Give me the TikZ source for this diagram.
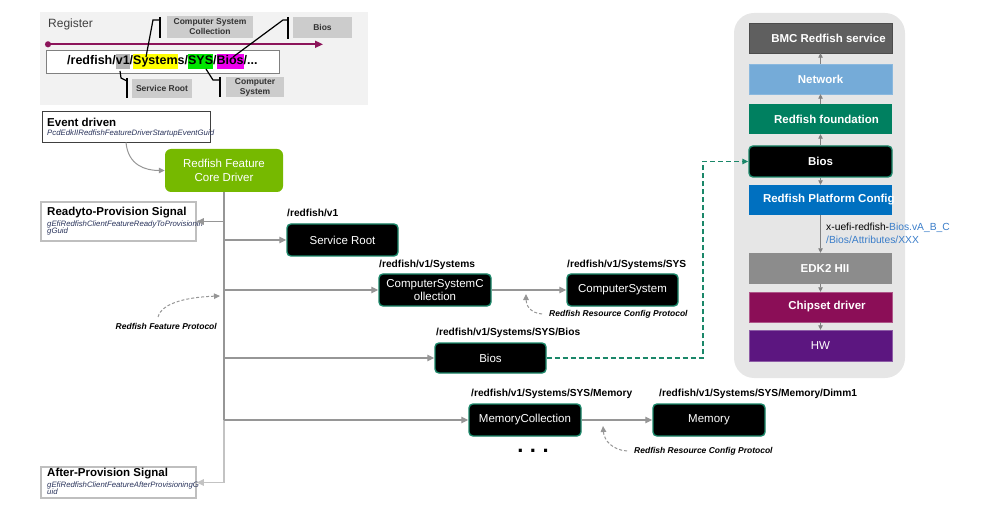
\documentclass[tikz,border=0pt]{standalone}
\usepackage{fontspec}
\setmainfont{Liberation Sans}
\usetikzlibrary{arrows.meta}
\definecolor{teal1}{RGB}{26,135,105}
\definecolor{cgreen}{RGB}{118,185,0}
\definecolor{fndc}{RGB}{0,128,96}
\definecolor{netc}{RGB}{117,171,216}
\definecolor{bmcc}{RGB}{95,95,95}
\definecolor{rpcc}{RGB}{0,112,192}
\definecolor{hiic}{RGB}{140,140,140}
\definecolor{chipc}{RGB}{139,14,87}
\definecolor{hwc}{RGB}{92,22,128}
\definecolor{panelc}{RGB}{230,230,230}
\definecolor{regbg}{RGB}{242,242,242}
\definecolor{purp}{RGB}{140,20,90}
\definecolor{arrg}{RGB}{150,150,150}
\definecolor{arrl}{RGB}{195,195,195}
\definecolor{subc}{RGB}{40,50,90}
\definecolor{calc}{RGB}{204,204,204}
\definecolor{lblue}{RGB}{58,125,201}
\definecolor{hlgray}{RGB}{180,180,180}
\definecolor{hlyel}{RGB}{255,255,0}
\definecolor{hlgrn}{RGB}{0,230,0}
\definecolor{hlmag}{RGB}{238,0,238}
\newcommand\fs[2]{\fontsize{#1}{#2}\selectfont}
\newcommand\hlw[2]{{\setlength{\fboxsep}{0pt}\colorbox{#1}{\strut #2}}}
\begin{document}
\begin{tikzpicture}[x=1pt,y=-1pt,
  rnode/.style={fill=black, draw=teal1, line width=1.4pt, rounded corners=4pt, text=white, font=\fs{11.5}{13}, inner sep=0, align=center, minimum height=32},
  plab/.style={anchor=base west, font=\bfseries\fs{10.2}{12}, inner sep=0},
  arr/.style={draw=arrg, line width=1.3pt, -{Triangle[length=7pt,width=6.5pt]}},
  arrlt/.style={draw=arrl, line width=1.3pt, -{Triangle[length=7pt,width=6.5pt]}},
  dcurve/.style={draw=arrg, line width=1pt, dash pattern=on 3pt off 2pt, -{Triangle[length=6pt,width=5.5pt]}},
  protl/.style={font=\bfseries\itshape\fs{8.5}{10}, inner sep=0},
  calbox/.style={fill=calc, inner sep=0, font=\bfseries\fs{8.5}{10}, text=black!80, align=center},
  cline/.style={draw=black, line width=1.2pt},
  cbar/.style={draw=black, line width=1.8pt},
  sbox/.style={minimum width=143, minimum height=30, inner sep=0, text=white, font=\bfseries\fs{11.5}{13}},
  sarr/.style={draw=black!50, line width=0.8pt, -{Triangle[length=4.5pt,width=4.5pt]}},
  ttl/.style={anchor=west, inner sep=0, font=\bfseries\fs{11.5}{13}},
  subt/.style={anchor=west, inner sep=0, font=\itshape\fs{7.8}{7.8}, text=subc, align=left}
]
\useasboundingbox (0,0) rectangle (992,510);

% ---------- register panel ----------
\node[fill=regbg, minimum width=328, minimum height=93, inner sep=0] (reg) at (204,58.5) {};
\node[anchor=west, inner sep=0, font=\fs{12}{14}, text=black!75] (regt) at (48,24) {Register};
\coordinate (ls) at (45,44.3);
\coordinate (le) at (323,44.3);
\draw[purp, line width=1.6pt, {Circle[length=6pt]}-{Triangle[length=8pt,width=7pt]}] (ls) -- (le);
\node[draw=black!50, line width=1pt, fill=white, minimum width=233, minimum height=22.6, inner sep=0] (pbox) at (162.5,62) {};
\node[anchor=west, inner sep=0, font=\bfseries\fs{12.5}{15}] (ptext) at (67,62) {/redfish/\hlw{hlgray}{v1}/\hlw{hlyel}{System}s/\hlw{hlgrn}{SYS}/\hlw{hlmag}{Bios}/...};

\node[calbox, minimum width=86, minimum height=22] (ccsc) at (210,27) {Computer System\\Collection};
\node[calbox, minimum width=59, minimum height=21] (cbios) at (322.5,27.5) {Bios};
\node[calbox, minimum width=60, minimum height=19] (csr) at (162,88.5) {Service Root};
\node[calbox, minimum width=58, minimum height=20] (ccs) at (255,87) {Computer\\System};

\draw[cbar] (160,17) -- (160,38);
\draw[cline] (146,57) -- (153,20) -- (160,20);
\draw[cbar] (288,17) -- (288,39);
\draw[cline] (233,57) -- (283,20) -- (288,20);
\draw[cbar] (127,78) -- (127,98);
\draw[cline] (120,71) -- (121,78) -- (127,81);
\draw[cbar] (220,77) -- (220,97);
\draw[cline] (206,69) -- (213,80) -- (220,80);

% ---------- left side ----------
\node[draw=black!75, line width=0.9pt, minimum width=168, minimum height=31, inner sep=0] (ev) at (126,126.5) {};
\node[ttl] (evt) at (47,122) {Event driven};
\node[subt] (evs) at (47,133.5) {PcdEdkIIRedfishFeatureDriverStartupEventGuid};

\node[fill=cgreen, rounded corners=6pt, minimum width=118, minimum height=43, inner sep=0, text=white, align=center, font=\fs{11.5}{13.5}] (core) at (224,170.5) {Redfish Feature\\Core Driver};

\node[draw=black!25, line width=1.5pt, minimum width=155, minimum height=39, inner sep=0] (ready) at (118.5,221.5) {};
\node[ttl] (readyt) at (47,212.5) {Readyto-Provision Signal};
\node[subt] (readys) at (47,228) {gEfiRedfishClientFeatureReadyToProvisionin\\gGuid};

\node[draw=black!25, line width=1.5pt, minimum width=155, minimum height=31, inner sep=0] (after) at (118.5,482.5) {};
\node[ttl] (aftert) at (47,473.5) {After-Provision Signal};
\node[subt] (afters) at (47,488.2) {gEfiRedfishClientFeatureAfterProvisioningG\\uid};

\draw[draw=arrg, line width=1pt, -{Triangle[length=6pt,width=5.5pt]}] (ev.south) .. controls (128,165) and (145,170.5) .. (core.west);

% ---------- resource nodes ----------
\node[rnode, minimum width=111] (sr) at (342.5,240) {Service Root};
\node[rnode, minimum width=112] (csc) at (435,290) {ComputerSystemC\\ollection};
\node[rnode, minimum width=111] (cs) at (622.5,290) {ComputerSystem};
\node[rnode, minimum width=111, minimum height=30] (bios) at (490.5,358) {Bios};
\node[rnode, minimum width=112] (mc) at (525,420) {MemoryCollection};
\node[rnode, minimum width=112] (mem) at (709,420) {Memory};

\node[plab] (srl) at (287,216.8) {/redfish/v1};
\node[plab] (cscl) at (379,267.8) {/redfish/v1/Systems};
\node[plab] (csl) at (567,267.8) {/redfish/v1/Systems/SYS};
\node[plab] (biosl) at (436,335.8) {/redfish/v1/Systems/SYS/Bios};
\node[plab] (mcl) at (471,396.8) {/redfish/v1/Systems/SYS/Memory};
\node[plab] (meml) at (659,396.8) {/redfish/v1/Systems/SYS/Memory/Dimm1};

% trunk and branches
\draw[draw=arrg, line width=1.3pt] (core.south) -- (core.south |- mc.west);
\draw[arrlt] (core.south |- mc.west) |- (after.east);
\draw[arr] (core.south |- ready.east) -- (ready.east);
\draw[arr] (core.south |- sr.west) -- (sr.west);
\draw[arr] (core.south |- csc.west) -- (csc.west);
\draw[arr] (core.south |- bios.west) -- (bios.west);
\draw[arr] (core.south |- mc.west) -- (mc.west);
\draw[arr] (csc.east) -- (cs.west);
\draw[arr] (mc.east) -- (mem.west);

% protocol annotations
\node[protl, anchor=east] (rfp) at (217,326) {Redfish Feature Protocol};
\coordinate (rfp0) at (158,317);
\coordinate (rfpa) at (220,296);
\draw[dcurve] (rfp0) .. controls (162,302) and (190,297) .. (rfpa);

\node[protl, anchor=west] (rrc1) at (549,314) {Redfish Resource Config Protocol};
\coordinate (rrc1s) at (542,314);
\coordinate (rrc1a) at (526,294);
\draw[dcurve] (rrc1s) .. controls (530,313) and (526,305) .. (rrc1a);

\node[protl, anchor=west] (rrc2) at (634,451) {Redfish Resource Config Protocol};
\coordinate (rrc2s) at (627,451);
\coordinate (rrc2a) at (603,426);
\draw[dcurve] (rrc2s) .. controls (612,450) and (604,440) .. (rrc2a);

\node[anchor=base, inner sep=0, font=\bfseries\fs{22}{24}] (dots) at (533,452.8) {.\hspace{6.5pt}.\hspace{6.5pt}.};

% ---------- right stack ----------
\node[fill=panelc, rounded corners=20pt, minimum width=171, minimum height=365, inner sep=0] (panel) at (819.5,195.5) {};
\node[sbox, fill=bmcc, draw=black!70] (bmc) at (820.5,38) {\hspace*{16pt}BMC Redfish service};
\node[sbox, fill=netc, draw=netc!85!white] (net) at (820.5,79) {Network};
\node[sbox, fill=fndc] (fnd) at (820.5,119) {\hspace*{12pt}Redfish foundation};
\node[sbox, fill=black, draw=teal1, line width=1.4pt, rounded corners=4pt, minimum height=31] (sbios) at (820.5,161.5) {Bios};
\node[sbox, fill=rpcc, label={[anchor=west, inner sep=0, text=white, font=\bfseries\fs{11.5}{13}]west:\hspace*{14pt}Redfish Platform Config}] (rpc) at (820.5,200) {};
\node[sbox, fill=hiic, minimum height=31] (hii) at (820.5,268.5) {\hspace*{9pt}EDK2 HII};
\node[sbox, fill=chipc, draw=chipc!70!white] (chip) at (820.5,307) {\hspace*{13pt}Chipset driver};
\node[sbox, fill=hwc, draw=hwc!70!white, font=\fs{11.5}{13}, minimum height=31] (hw) at (820.5,345.5) {HW};

\draw[sarr] (net.north) -- (bmc.south);
\draw[sarr] (fnd.north) -- (net.south);
\draw[sarr] (sbios.north) -- (fnd.south);
\draw[sarr] (sbios.south) -- (rpc.north);
\draw[sarr] (rpc.south) -- (hii.north);
\draw[sarr] (hii.south) -- (chip.north);
\draw[sarr] (chip.south) -- (hw.north);

\node[anchor=west, align=left, inner sep=0, font=\fs{10.3}{13}] (xattr) at (826,233.5) {x-uefi-redfish-\textcolor{lblue}{Bios.vA\_B\_C}\\\textcolor{lblue}{/Bios/Attributes/XXX}};

\coordinate (gc) at (703,358);
\draw[teal1, line width=1.2pt, dash pattern=on 5pt off 3pt, -{Triangle[length=6pt,width=5.5pt]}] (bios.east) -- (gc) |- (sbios.west);
\end{tikzpicture}
\end{document}
